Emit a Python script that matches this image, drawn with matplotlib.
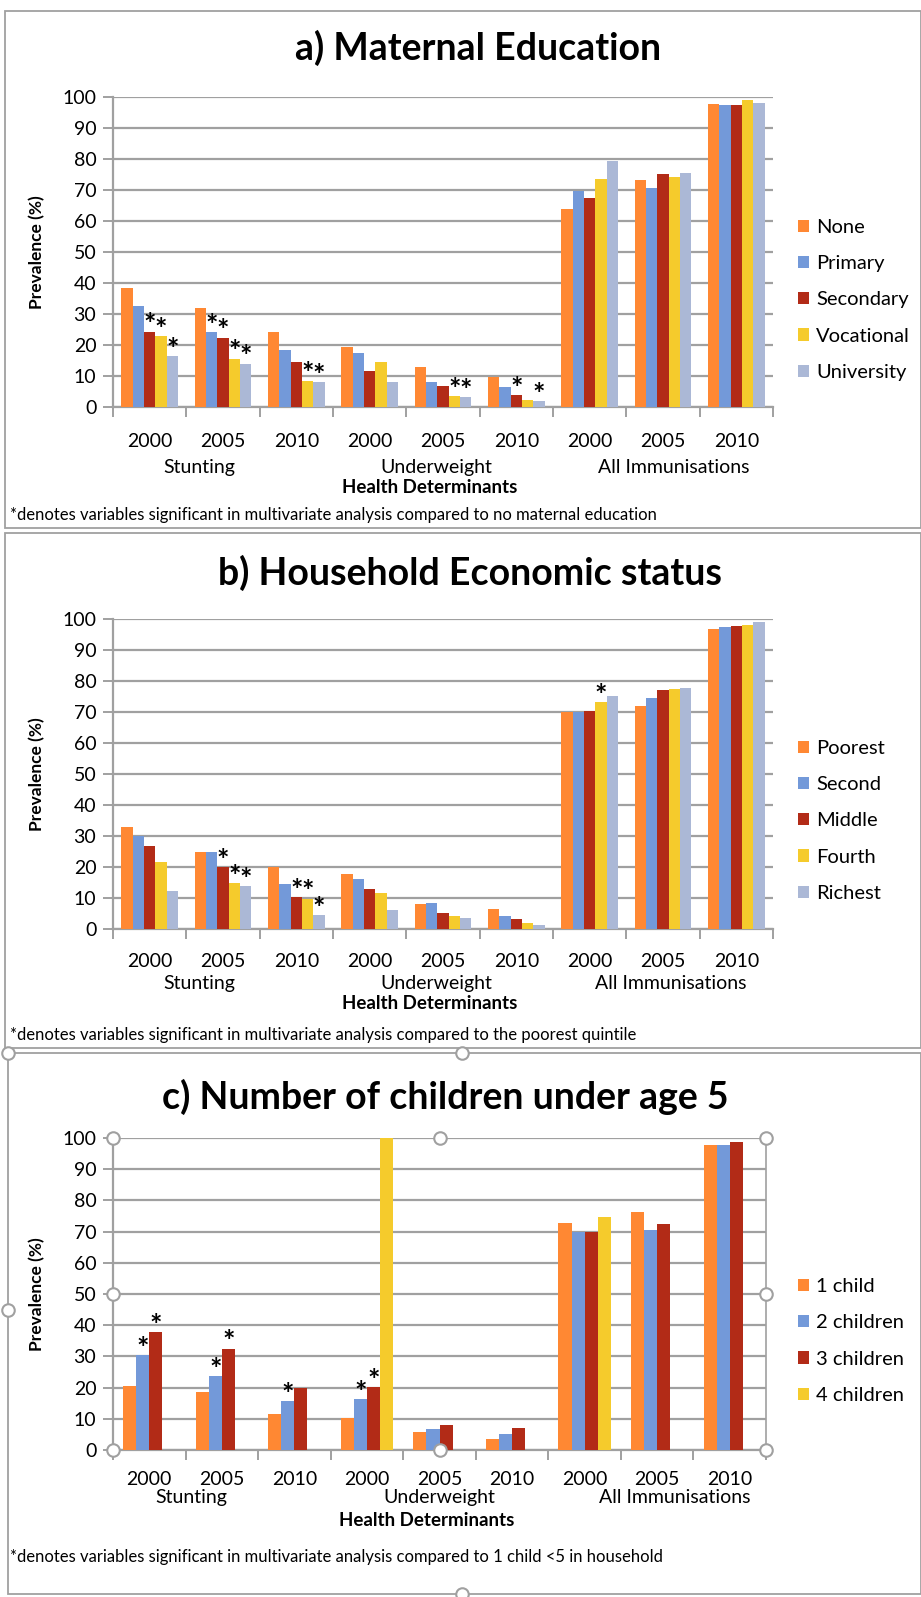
import matplotlib
matplotlib.use('Agg')
import matplotlib.pyplot as plt
from matplotlib.patches import Rectangle
import numpy as np

plt.rcParams['font.family'] = ['Lato', 'DejaVu Sans']

W, H = 921, 1597

years = ['2000', '2005', '2010', '2000', '2005', '2010', '2000', '2005', '2010']
outcomes = ['Stunting', 'Underweight', 'All Immunisations']
colors = ['#FF8833', '#7399D9', '#B22B17', '#F5CB2C', '#ABB8D6']

# a) maternal education
edu_labels = ['None', 'Primary', 'Secondary', 'Vocational', 'University']
edu_none = [38.5, 31.8, 24.3, 19.3, 12.8, 9.6, 63.8, 73.3, 97.7]
edu_primary = [32.5, 24.1, 18.4, 17.4, 8.1, 6.6, 69.8, 70.5, 97.4]
edu_secondary = [24.3, 22.4, 14.5, 11.5, 6.9, 3.9, 67.5, 75.3, 97.4]
edu_vocational = [22.9, 15.6, 8.5, 14.5, 3.5, 2.4, 73.6, 74.2, 99.1]
edu_university = [16.5, 14.0, 8.0, 8.0, 3.2, 1.9, 79.2, 75.6, 98.0]
edu_sig = [[0, 0, 0, 0, 0, 0, 0, 0, 0],
           [0, 1, 0, 0, 0, 0, 0, 0, 0],
           [1, 1, 0, 0, 0, 1, 0, 0, 0],
           [1, 1, 1, 0, 1, 0, 0, 0, 0],
           [1, 1, 1, 0, 1, 1, 0, 0, 0]]

# b) household economic status
ses_labels = ['Poorest', 'Second', 'Middle', 'Fourth', 'Richest']
ses_poorest = [32.8, 25.0, 19.9, 17.8, 8.0, 6.3, 70.0, 72.0, 96.8]
ses_second = [30.0, 25.0, 14.6, 16.1, 8.3, 4.1, 70.0, 74.6, 97.4]
ses_middle = [26.9, 19.9, 10.2, 12.8, 5.2, 3.2, 70.3, 77.0, 97.7]
ses_fourth = [21.7, 14.9, 9.8, 11.6, 4.1, 2.0, 73.2, 77.3, 98.2]
ses_richest = [12.2, 13.8, 4.6, 6.0, 3.6, 1.2, 75.1, 77.7, 98.9]
ses_sig = [[0, 0, 0, 0, 0, 0, 0, 0, 0],
           [0, 0, 0, 0, 0, 0, 0, 0, 0],
           [0, 1, 1, 0, 0, 0, 0, 0, 0],
           [0, 1, 1, 0, 0, 0, 1, 0, 0],
           [0, 1, 1, 0, 0, 0, 0, 0, 0]]

# c) number of children under 5 (nan = no bar)
kid_labels = ['1 child', '2 children', '3 children', '4 children']
kid_1 = [20.5, 18.5, 11.6, 10.4, 5.7, 3.5, 72.8, 76.3, 97.6]
kid_2 = [30.5, 23.8, 15.7, 16.3, 6.8, 5.0, 70.0, 70.6, 97.9]
kid_3 = [37.7, 32.5, 19.9, 20.1, 7.9, 6.9, 70.0, 72.5, 98.7]
kid_4 = [np.nan, np.nan, np.nan, 100.0, np.nan, np.nan, 74.8, np.nan, np.nan]
kid_sig = [[0, 0, 0, 0, 0, 0, 0, 0, 0],
           [1, 1, 1, 1, 0, 0, 0, 0, 0],
           [1, 1, 0, 1, 0, 0, 0, 0, 0],
           [0, 0, 0, 0, 0, 0, 0, 0, 0]]

GRID = '#A0A0A0'
FRAME = '#A0A0A0'


def px_axes(left, top, right, bottom):
    return fig.add_axes([left / W, 1 - bottom / H, (right - left) / W, (bottom - top) / H])


def frame(x0, y0, x1, y1):
    fig.patches.append(Rectangle((x0 / W, 1 - y1 / H), (x1 - x0) / W, (y1 - y0) / H,
                                 transform=fig.transFigure, fill=False,
                                 edgecolor=FRAME, lw=1.3))


def draw_panel(ax, series, labels, sig, bw, title, title_xy, note, note_y,
               tick_pad, cat_y, hd_y, leg_y, cat_x=(0.13, 0.49, 0.85)):
    n = len(series)
    x = np.arange(len(years))
    for i, vals in enumerate(series):
        vals = np.array(vals, dtype=float)
        ok = ~np.isnan(vals)
        pos = x + (i - (n - 1) / 2) * bw
        ax.bar(pos[ok], vals[ok], width=bw, color=colors[i], label=labels[i],
               zorder=3)
        for j in range(len(years)):
            if sig[i][j]:
                ax.text(pos[j], vals[j] - 2.2, '*', ha='center', va='bottom',
                        fontsize=21, fontweight='bold', color='black', zorder=4)
    ax.set_xlim(-0.5, len(years) - 0.5)
    ax.set_ylim(0, 100)
    ax.set_yticks(range(0, 101, 10))
    ax.set_xticks(x)
    ax.set_xticklabels(years)
    ax.set_xticks(np.arange(len(years) + 1) - 0.5, minor=True)
    ax.tick_params(axis='x', which='major', length=0, pad=tick_pad, labelsize=14)
    ax.tick_params(axis='x', which='minor', length=7, width=1.4, color=GRID)
    ax.tick_params(axis='y', length=7, width=1.4, color=GRID, pad=5, labelsize=14)
    ax.grid(axis='y', color=GRID, lw=1.6, zorder=0)
    for s in ['top', 'right']:
        ax.spines[s].set_visible(False)
    for s in ['left', 'bottom']:
        ax.spines[s].set_color(GRID)
        ax.spines[s].set_linewidth(1.6)
    ax.set_ylabel('Prevalence (%)', fontsize=12.5, fontweight='bold', labelpad=12)
    for lab, cx in zip(outcomes, cat_x):
        ax.text(cx, cat_y, lab, transform=ax.transAxes, ha='center', va='center',
                fontsize=14)
    ax.text(0.48, hd_y, 'Health Determinants', transform=ax.transAxes,
            ha='center', va='center', fontsize=13.5, fontweight='bold')
    fig.text(title_xy[0] / W, 1 - title_xy[1] / H, title, ha='center', va='center',
             fontsize=27, fontweight='bold')
    fig.text(10 / W, 1 - note_y / H, note, ha='left', va='center', fontsize=12)
    ax.legend(loc='center left', bbox_to_anchor=(780 / W, 1 - leg_y / H),
              bbox_transform=fig.transFigure, frameon=False, fontsize=14.5,
              handlelength=0.55, handleheight=0.55, handletextpad=0.35,
              labelspacing=0.95)


fig = plt.figure(figsize=(W / 100, H / 100), dpi=100)

frame(5, 11, 921, 528)
frame(5, 533, 921, 1048)
frame(8, 1053, 921, 1594)

ax_a = px_axes(113, 97, 773, 407)
draw_panel(ax_a, [edu_none, edu_primary, edu_secondary, edu_vocational, edu_university],
           edu_labels, edu_sig, 0.155, 'a) Maternal Education', (478, 48),
           '*denotes variables significant in multivariate analysis compared to no maternal education',
           515, 19, -0.195, -0.26, 300)

ax_b = px_axes(113, 619, 773, 929)
draw_panel(ax_b, [ses_poorest, ses_second, ses_middle, ses_fourth, ses_richest],
           ses_labels, ses_sig, 0.155, 'b) Household Economic status', (470, 573),
           '*denotes variables significant in multivariate analysis compared to the poorest quintile',
           1035, 17, -0.175, -0.24, 821, cat_x=(0.13, 0.49, 0.845))

ax_c = px_axes(113, 1138, 766, 1450)
draw_panel(ax_c, [kid_1, kid_2, kid_3, kid_4], kid_labels, kid_sig, 0.18,
           'c) Number of children under age 5', (445, 1097),
           '*denotes variables significant in multivariate analysis compared to 1 child <5 in household',
           1557, 15, -0.152, -0.225, 1341, cat_x=(0.12, 0.50, 0.86))
ax_c.spines['right'].set_visible(True)
ax_c.spines['right'].set_color(GRID)
ax_c.spines['right'].set_linewidth(1.2)

# selection handles around the plot area of panel c
hx = [0, 0.5, 1, 1, 1, 0.5, 0, 0]
hy = [1, 1, 1, 0.5, 0, 0, 0, 0.5]
ax_c.plot(hx, hy, 'o', ms=9, mfc='white', mec='#A0A0A0', mew=1.5,
          transform=ax_c.transAxes, clip_on=False, zorder=6)
fx = [8 / W, 462 / W, 8 / W, 462 / W]
fy = [1 - 1053 / H, 1 - 1053 / H, 1 - 1310 / H, 1 - 1594 / H]
fig.lines.append(plt.Line2D(fx, fy, ls='none', marker='o', ms=9, mfc='white',
                            mec='#A0A0A0', mew=1.5, transform=fig.transFigure))

fig.savefig('out.png', dpi=100)
